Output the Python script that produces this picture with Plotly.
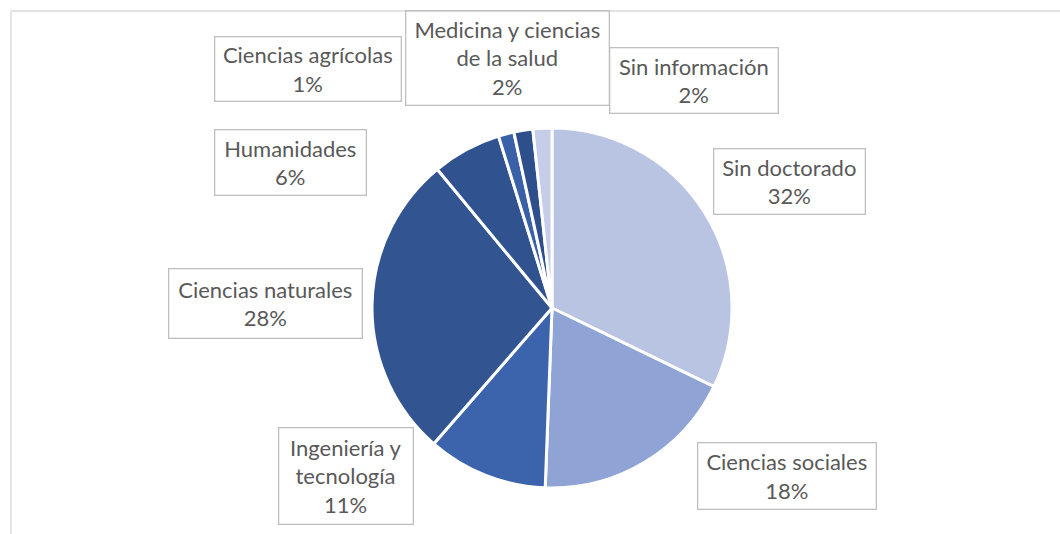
import plotly.graph_objects as go

W, H = 1060, 534

categories = ["Sin doctorado", "Ciencias sociales", "Ingeniería y tecnología",
              "Ciencias naturales", "Humanidades", "Ciencias agrícolas",
              "Medicina y ciencias de la salud", "Sin información"]
values = [32.2, 18.4, 10.8, 27.6, 6.2, 1.4, 1.7, 1.7]
label_lines = ["Sin doctorado", "Ciencias sociales", "Ingeniería y<br>tecnología",
               "Ciencias naturales", "Humanidades", "Ciencias agrícolas",
               "Medicina y ciencias<br>de la salud", "Sin información"]
colors = ["#b9c3e2", "#8fa4d4", "#3c64ac", "#325592", "#305390",
          "#3a60a8", "#2e4f8b", "#c5cde8"]

# label boxes in pixels: (x0, x1, y0, y1)
label_boxes = [(714, 866, 148, 214), (697, 876, 442, 509), (278, 413, 427, 524),
               (168, 362, 268, 338), (214, 366, 130, 196), (214, 401, 36, 101),
               (405, 609, 11, 106), (609, 778, 47, 113)]

cx, cy, r = 552, 308, 180

fig = go.Figure(go.Pie(
    labels=categories, values=values, sort=False, direction="clockwise",
    rotation=0, textinfo="none", hoverinfo="label+percent",
    marker=dict(colors=colors, line=dict(color="white", width=3)),
    domain=dict(x=[(cx - r) / W, (cx + r) / W],
                y=[1 - (cy + r) / H, 1 - (cy - r) / H]),
    showlegend=False,
))

total = sum(values)
for lab, v, (x0, x1, y0, y1) in zip(label_lines, values, label_boxes):
    fig.add_annotation(
        x=(x0 + x1) / 2 / W, y=1 - (y0 + y1) / 2 / H, xref="paper", yref="paper",
        xanchor="center", yanchor="middle",
        text=f"{lab}<br>{round(v / total * 100)}%",
        showarrow=False, align="center", valign="middle",
        width=x1 - x0 - 4, height=y1 - y0 - 4,
        font=dict(family="Lato", size=22, color="#595959"),
        bordercolor="#bfbfbf", borderwidth=1.3, borderpad=1,
    )

# chart area border (left and top edges visible)
fig.add_shape(type="line", xref="paper", yref="paper",
              x0=11 / W, x1=1.02, y0=1 - 11 / H, y1=1 - 11 / H,
              line=dict(color="#d9d9d9", width=1.3))
fig.add_shape(type="line", xref="paper", yref="paper",
              x0=11 / W, x1=11 / W, y0=1 - 11 / H, y1=-0.02,
              line=dict(color="#d9d9d9", width=1.3))

fig.update_layout(width=W, height=H, margin=dict(l=0, r=0, t=0, b=0),
                  paper_bgcolor="white", plot_bgcolor="white")
fig.write_html("out.html", config={"displayModeBar": False},
               post_script="document.body.style.margin='0';document.body.style.overflow='hidden';")
